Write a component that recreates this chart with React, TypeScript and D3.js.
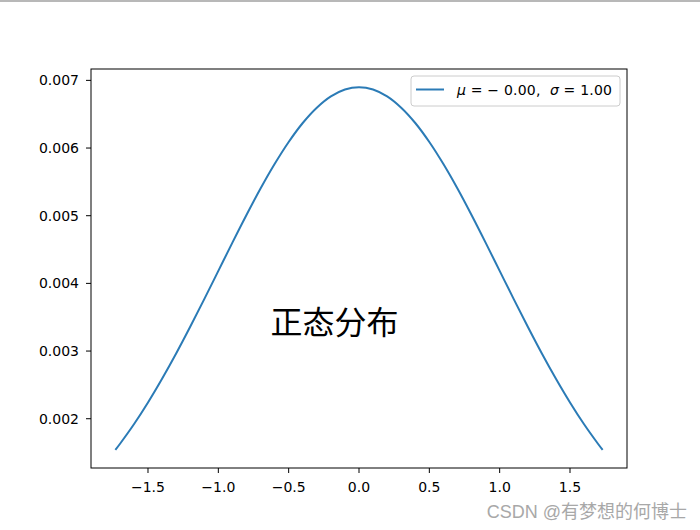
import React from "react";
import * as d3 from "d3";

const xValues = [-1.732, -1.7, -1.6, -1.5, -1.4, -1.3, -1.2, -1.1, -1.0, -0.9, -0.8, -0.7, -0.6, -0.5, -0.4, -0.3, -0.2, -0.1, 0.0, 0.1, 0.2, 0.3, 0.4, 0.5, 0.6, 0.7, 0.8, 0.9, 1.0, 1.1, 1.2, 1.3, 1.4, 1.5, 1.6, 1.7, 1.732];
const yValues = [0.00154, 0.001627, 0.001918, 0.00224, 0.00259, 0.002964, 0.003359, 0.003768, 0.004185, 0.004602, 0.00501, 0.005401, 0.005763, 0.006089, 0.00637, 0.006596, 0.006763, 0.006866, 0.0069, 0.006866, 0.006763, 0.006596, 0.00637, 0.006089, 0.005763, 0.005401, 0.00501, 0.004602, 0.004185, 0.003768, 0.003359, 0.002964, 0.00259, 0.00224, 0.001918, 0.001627, 0.00154];
const xTicks = [-1.5, -1.0, -0.5, 0.0, 0.5, 1.0, 1.5];
const yTicks = [0.002, 0.003, 0.004, 0.005, 0.006, 0.007];
const legendLabel = ["μ", " = − 0.00,  ", "σ", " = 1.00"];
const annotation = "正态分布";
const watermark = "CSDN @有梦想的何博士";

export default function App() {
  const left = 91, right = 627, top = 69, bottom = 468;
  const xMin = d3.min(xValues)!, xMax = d3.max(xValues)!;
  const yMin = d3.min(yValues)!, yMax = d3.max(yValues)!;
  const xPad = (xMax - xMin) * 0.05, yPad = (yMax - yMin) * 0.05;
  const x = d3.scaleLinear().domain([xMin - xPad, xMax + xPad]).range([left, right]);
  const y = d3.scaleLinear().domain([yMin - yPad, yMax + yPad]).range([bottom, top]);
  const pts = xValues.map((v, i) => [v, yValues[i]] as [number, number]);
  const line = d3.line<[number, number]>().x(d => x(d[0])).y(d => y(d[1])).curve(d3.curveCatmullRom);
  const font = "DejaVu Sans, sans-serif";
  const fmtX = (v: number) => d3.format(".1f")(v).replace("-", "−");
  return (
    <svg width={700} height={530} style={{ position: "absolute", left: 0, top: 0, background: "#fff" }}>
      <line x1={0} x2={700} y1={1} y2={1} stroke="#a0a0a0" strokeWidth={1.5} />
      <path d={line(pts)!} fill="none" stroke="#2b7bb6" strokeWidth={2} />
      <rect x={left} y={top} width={right - left} height={bottom - top} fill="none" stroke="#000" strokeWidth={1} />
      {xTicks.map(t => (
        <g key={"x" + t}>
          <line x1={x(t)} x2={x(t)} y1={bottom} y2={bottom + 5} stroke="#000" />
          <text x={x(t)} y={bottom + 24} textAnchor="middle" fontFamily={font} fontSize={14} fill="#000">{fmtX(t)}</text>
        </g>
      ))}
      {yTicks.map(t => (
        <g key={"y" + t}>
          <line x1={left - 5} x2={left} y1={y(t)} y2={y(t)} stroke="#000" />
          <text x={left - 12} y={y(t) + 5} textAnchor="end" fontFamily={font} fontSize={14} fill="#000">{d3.format(".3f")(t)}</text>
        </g>
      ))}
      <rect x={411} y={76} width={209} height={30} rx={3} fill="#fff" fillOpacity={0.8} stroke="#cccccc" />
      <line x1={416} x2={444} y1={89.5} y2={89.5} stroke="#2b7bb6" strokeWidth={2} />
      <text x={457} y={95} fontFamily={font} fontSize={14} fill="#000" textLength={155} lengthAdjust="spacing" style={{ whiteSpace: "pre" }}>
        <tspan fontStyle="italic">{legendLabel[0]}</tspan>
        <tspan>{legendLabel[1]}</tspan>
        <tspan fontStyle="italic">{legendLabel[2]}</tspan>
        <tspan>{legendLabel[3]}</tspan>
      </text>
      <text x={x(-0.63)} y={y(0.00316) - 6} fontFamily="Noto Sans CJK SC, sans-serif" fontSize={32} fill="#000">{annotation}</text>
      <text x={687} y={518} textAnchor="end" fontFamily="Liberation Sans, Noto Sans CJK SC, sans-serif" fontSize={18} fill="#a8a8a8">{watermark}</text>
    </svg>
  );
}
